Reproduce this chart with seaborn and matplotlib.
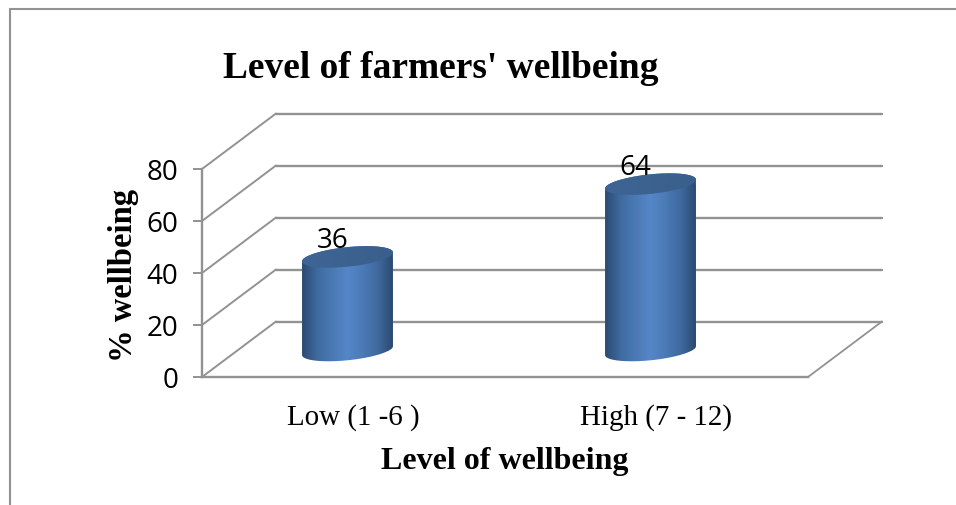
import numpy as np
import pandas as pd
import seaborn as sns
import matplotlib.pyplot as plt
from matplotlib.colors import LinearSegmentedColormap
from matplotlib.lines import Line2D
from matplotlib.path import Path

# Data
categories = ['Low (1 -6 )', 'High (7 - 12)']
wellbeing = [36, 64]
y_ticks = [0, 20, 40, 60, 80]

sns.set_theme(style='white')

W, H = 956, 506
GREY = '#929292'
SERIF = 'Liberation Serif'
SANS = 'Open Sans'

fig = plt.figure(figsize=(W / 100, H / 100), dpi=100, facecolor='white')
ax = fig.add_axes([202 / W, 1 - 378 / H, 606 / W, 208 / H], facecolor='none')

df = pd.DataFrame({'level': categories, 'pct': wellbeing})
sns.barplot(data=df, x='level', y='pct', width=0.3, color='#4f81bd', saturation=1, ax=ax, zorder=3)
ax.set_xlim(-0.5, 1.5)
ax.set_ylim(0, 80)

# pixel sizes in data units
px_x = 2 / 606
px_y = 80 / 208

# 3D walls
depth_x = 74 * px_x
depth_y = 55.5 * px_y
for v in y_ticks:
    ax.plot([-0.5, -0.5 + depth_x], [v, v + depth_y], color=GREY, lw=1.4, clip_on=False, zorder=1)
    ax.plot([-0.5 + depth_x, 1.5 + depth_x], [v + depth_y, v + depth_y], color=GREY, lw=1.7, clip_on=False, zorder=1)
ax.plot([1.5, 1.5 + depth_x], [0, depth_y], color=GREY, lw=1.3, clip_on=False, zorder=1)

# Cylinders on top of the seaborn bars
side_cmap = LinearSegmentedColormap.from_list(
    'side', ['#2b4a72', '#3f6a9f', '#4a79b4', '#5586c8', '#4b7ab5', '#3f6a9f', '#2c4a70'])
top_cmap = LinearSegmentedColormap.from_list('top', ['#3e6595', '#3c628f', '#3a5f8d'])
shift_x = -6 * px_x
base_y = 26.5 * px_y
tilt = 4.5 * px_y
minor = 9.8 * px_y


def ring(cx, cy, a, t):
    return cx + a * np.cos(t), cy + minor * np.sin(t) + tilt * np.cos(t)


for patch, val in zip(ax.patches, wellbeing):
    patch.set_x(patch.get_x() + shift_x)
    patch.set_y(base_y)
    x0, w = patch.get_x(), patch.get_width()
    a = w / 2
    cx = x0 + a
    top_y = base_y + val

    # side of the cylinder
    bx, by = ring(cx, base_y, a, np.linspace(np.pi, 2 * np.pi, 80))
    tx, ty = ring(cx, top_y, a, np.linspace(0, np.pi, 80))
    side = Path(np.column_stack([np.r_[bx, tx], np.r_[by, ty]]))
    patch.set_clip_path(side, ax.transData)
    im = ax.imshow(np.linspace(0, 1, 256)[None, :], extent=[x0, x0 + w, base_y - 2 * minor, top_y + 2 * minor],
                   cmap=side_cmap, aspect='auto', zorder=4)
    im.set_clip_path(side, ax.transData)

    # top of the cylinder
    ex, ey = ring(cx, top_y, a, np.linspace(0, 2 * np.pi, 160))
    lid = Path(np.column_stack([ex, ey]))
    im2 = ax.imshow(np.linspace(0, 1, 64)[None, :], extent=[x0, x0 + w, top_y - 2 * minor, top_y + 2 * minor],
                    cmap=top_cmap, aspect='auto', zorder=5)
    im2.set_clip_path(lid, ax.transData)

    # value label
    ax.text(cx - 15 * px_x, top_y + 17 * px_y, str(val), ha='center', va='center',
            fontsize=20, family=SANS, color='black', zorder=6, clip_on=False)

ax.set_xlim(-0.5, 1.5)
ax.set_ylim(0, 80)

# Axes
sns.despine(ax=ax)
for side_name in ['left', 'bottom']:
    ax.spines[side_name].set_color(GREY)
    ax.spines[side_name].set_linewidth(1.7)
ax.set_yticks(y_ticks)
ax.tick_params(axis='y', left=True, length=6.5, width=1.4, color=GREY, pad=10.5, labelsize=20)
ax.tick_params(axis='x', bottom=False, pad=12.6, labelsize=20.9)
for lab in ax.get_yticklabels():
    lab.set_family(SANS)
    lab.set_color('black')
for lab in ax.get_xticklabels():
    lab.set_family(SERIF)
    lab.set_color('black')

# Titles
ax.set_title("Level of farmers' wellbeing", family=SERIF, fontweight='bold', fontsize=26.9, color='black',
             x=(441 - 202) / 606, y=(378 - 77) / 208, va='center')
ax.set_xlabel('Level of wellbeing', family=SERIF, fontweight='bold', fontsize=23, color='black')
ax.xaxis.set_label_coords((505 - 202) / 606, (378 - 447) / 208)
ax.set_ylabel('% wellbeing', family=SERIF, fontweight='bold', fontsize=23.5, color='black')
ax.yaxis.set_label_coords((139 - 202) / 606, (378 - 275) / 208)

# Outer frame of the picture
fig.add_artist(Line2D([10 / W, 1], [1 - 9.5 / H] * 2, color=GREY, lw=1.5, transform=fig.transFigure))
fig.add_artist(Line2D([10 / W] * 2, [0, 1 - 9.5 / H], color=GREY, lw=1.5, transform=fig.transFigure))

plt.savefig('out.png', dpi=100)
